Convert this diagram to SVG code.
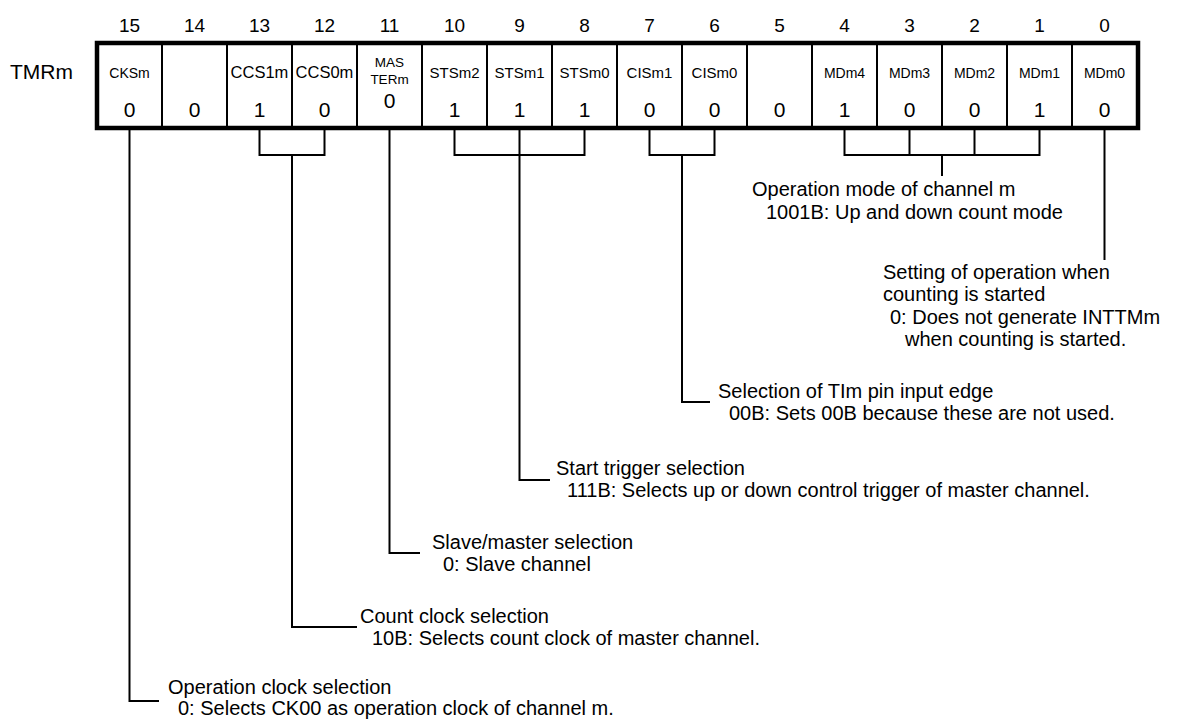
<svg xmlns="http://www.w3.org/2000/svg" width="1181" height="721" viewBox="0 0 1181 721">
<style>
text{font-family:"Liberation Sans",Arial,Helvetica,sans-serif;fill:#000}
.bn{font-size:19px;text-anchor:middle}
.lbl{font-size:15px;text-anchor:middle}
.sm{font-size:13.5px;text-anchor:middle}
.val{font-size:21px;text-anchor:middle}
.ann{font-size:20px}
.div{stroke:#000;stroke-width:2}
.ln{fill:none;stroke:#000;stroke-width:2}
</style>
<rect width="1181" height="721" fill="#fff"/>
<g id="bitnumbers">
<text class="bn" x="129.5" y="32">15</text>
<text class="bn" x="194.5" y="32">14</text>
<text class="bn" x="259.5" y="32">13</text>
<text class="bn" x="324.5" y="32">12</text>
<text class="bn" x="389.5" y="32">11</text>
<text class="bn" x="454.5" y="32">10</text>
<text class="bn" x="519.5" y="32">9</text>
<text class="bn" x="584.5" y="32">8</text>
<text class="bn" x="649.5" y="32">7</text>
<text class="bn" x="714.5" y="32">6</text>
<text class="bn" x="779.5" y="32">5</text>
<text class="bn" x="844.5" y="32">4</text>
<text class="bn" x="909.5" y="32">3</text>
<text class="bn" x="974.5" y="32">2</text>
<text class="bn" x="1039.5" y="32">1</text>
<text class="bn" x="1104.5" y="32">0</text>
</g>
<g id="register">
<text x="10" y="79" style="font-size:21px">TMRm</text>
<g class="div">
<line x1="162" y1="43" x2="162" y2="128"/><line x1="227" y1="43" x2="227" y2="128"/>
<line x1="292" y1="43" x2="292" y2="128"/><line x1="357" y1="43" x2="357" y2="128"/>
<line x1="422" y1="43" x2="422" y2="128"/><line x1="487" y1="43" x2="487" y2="128"/>
<line x1="552" y1="43" x2="552" y2="128"/><line x1="617" y1="43" x2="617" y2="128"/>
<line x1="682" y1="43" x2="682" y2="128"/><line x1="747" y1="43" x2="747" y2="128"/>
<line x1="812" y1="43" x2="812" y2="128"/><line x1="877" y1="43" x2="877" y2="128"/>
<line x1="942" y1="43" x2="942" y2="128"/><line x1="1007" y1="43" x2="1007" y2="128"/>
<line x1="1072" y1="43" x2="1072" y2="128"/>
</g>
<rect x="97" y="43" width="1041" height="85" fill="none" stroke="#000" stroke-width="4.5"/>
</g>
<g id="bit15"><text class="lbl" x="129.5" y="78" style="font-size:14px">CKSm</text><text class="val" x="129.5" y="117">0</text></g>
<g id="bit14"><text class="val" x="194.5" y="117">0</text></g>
<g id="bit13"><text class="lbl" x="259.5" y="78" style="font-size:16.5px">CCS1m</text><text class="val" x="259.5" y="117">1</text></g>
<g id="bit12"><text class="lbl" x="324.5" y="78" style="font-size:16.5px">CCS0m</text><text class="val" x="324.5" y="117">0</text></g>
<g id="bit11"><text class="sm" x="389.5" y="67">MAS</text><text class="sm" x="389.5" y="84">TERm</text><text class="val" x="389.5" y="108">0</text></g>
<g id="bit10"><text class="lbl" x="454.5" y="78">STSm2</text><text class="val" x="454.5" y="117">1</text></g>
<g id="bit9"><text class="lbl" x="519.5" y="78">STSm1</text><text class="val" x="519.5" y="117">1</text></g>
<g id="bit8"><text class="lbl" x="584.5" y="78">STSm0</text><text class="val" x="584.5" y="117">1</text></g>
<g id="bit7"><text class="lbl" x="649.5" y="78">CISm1</text><text class="val" x="649.5" y="117">0</text></g>
<g id="bit6"><text class="lbl" x="714.5" y="78">CISm0</text><text class="val" x="714.5" y="117">0</text></g>
<g id="bit5"><text class="val" x="779.5" y="117">0</text></g>
<g id="bit4"><text class="lbl" x="844.5" y="78" style="font-size:14px">MDm4</text><text class="val" x="844.5" y="117">1</text></g>
<g id="bit3"><text class="lbl" x="909.5" y="78" style="font-size:14px">MDm3</text><text class="val" x="909.5" y="117">0</text></g>
<g id="bit2"><text class="lbl" x="974.5" y="78" style="font-size:14px">MDm2</text><text class="val" x="974.5" y="117">0</text></g>
<g id="bit1"><text class="lbl" x="1039.5" y="78" style="font-size:14px">MDm1</text><text class="val" x="1039.5" y="117">1</text></g>
<g id="bit0"><text class="lbl" x="1104.5" y="78" style="font-size:14px">MDm0</text><text class="val" x="1104.5" y="117">0</text></g>
<g id="connectors" class="ln">
<polyline points="129.5,130 129.5,701 159,701"/>
<polyline points="259.5,130 259.5,155 324.5,155 324.5,130"/>
<polyline points="292,155 292,627 357,627"/>
<polyline points="389.5,130 389.5,553 420,553"/>
<polyline points="454.5,130 454.5,155 584.5,155 584.5,130"/>
<polyline points="519.5,130 519.5,480 550,480"/>
<polyline points="649.5,130 649.5,155 714.5,155 714.5,130"/>
<polyline points="682,155 682,402 710,402"/>
<polyline points="844.5,130 844.5,155 1039.5,155 1039.5,130"/>
<line x1="909.5" y1="130" x2="909.5" y2="155"/>
<line x1="974.5" y1="130" x2="974.5" y2="155"/>
<line x1="942" y1="155" x2="942" y2="176"/>
<line x1="1104.5" y1="130" x2="1104.5" y2="260"/>
</g>
<g id="note-md">
<text class="ann" x="752" y="196">Operation mode of channel m</text>
<text class="ann" x="766" y="219">1001B: Up and down count mode</text>
</g>
<g id="note-md0">
<text class="ann" x="883" y="279">Setting of operation when</text>
<text class="ann" x="883" y="301">counting is started</text>
<text class="ann" x="890" y="324">0: Does not generate INTTMm</text>
<text class="ann" x="905" y="346">when counting is started.</text>
</g>
<g id="note-cis">
<text class="ann" x="718" y="398">Selection of TIm pin input edge</text>
<text class="ann" x="729" y="420">00B: Sets 00B because these are not used.</text>
</g>
<g id="note-sts">
<text class="ann" x="556" y="475">Start trigger selection</text>
<text class="ann" x="567" y="497">111B: Selects up or down control trigger of master channel.</text>
</g>
<g id="note-master">
<text class="ann" x="432" y="549">Slave/master selection</text>
<text class="ann" x="443" y="571">0: Slave channel</text>
</g>
<g id="note-ccs">
<text class="ann" x="360" y="623">Count clock selection</text>
<text class="ann" x="372" y="645">10B: Selects count clock of master channel.</text>
</g>
<g id="note-cks">
<text class="ann" x="168" y="694">Operation clock selection</text>
<text class="ann" x="178" y="715">0: Selects CK00 as operation clock of channel m.</text>
</g>
</svg>
